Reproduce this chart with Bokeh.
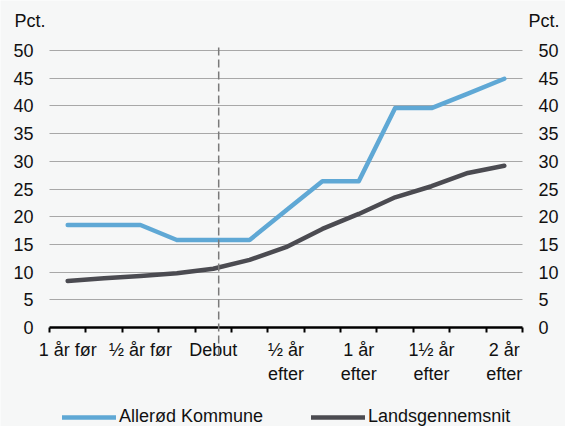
from bokeh.plotting import figure
from bokeh.models import (FixedTicker, LinearAxis, Range1d, Legend, LegendItem)
from bokeh.embed import file_html
from bokeh.resources import INLINE

# Data: quarters from 1 year before debut to 2 years after
quarters = list(range(13))
tick_labels = ["1 år før", "", "½ år før", "", "Debut", "", "½ år\nefter", "",
               "1 år\nefter", "", "1½ år\nefter", "", "2 år\nefter"]
allerod = [18.5, 18.5, 18.5, 15.8, 15.8, 15.8, 21.1, 26.4, 26.4, 39.6, 39.6, 42.2, 44.9]
lands = [8.4, 8.9, 9.3, 9.8, 10.6, 12.2, 14.5, 17.8, 20.5, 23.5, 25.5, 27.9, 29.2]
y_ticks = list(range(0, 55, 5))
unit_label = "Pct."
debut_marker = 4.15

# layout constants (pixels)
W, H = 565, 426
X_LEFT_PX, X_RIGHT_PX = 49, 522  # screen columns of the category area edges
Y0_PX, Y50_PX = 327, 50          # screen rows of y=0 and y=50
PPX = (X_RIGHT_PX - X_LEFT_PX) / 13.0
PPU = (Y0_PX - Y50_PX) / 50.0
x_lo = -0.5 - X_LEFT_PX / PPX
x_hi = 12.5 + (W - X_RIGHT_PX) / PPX
y_lo = -(H - Y0_PX) / PPU
y_hi = 50 + Y50_PX / PPU
pct_y = (Y0_PX - 20) / PPU
marker_top = 50 + 3 / PPU
marker_bottom = -(358 - Y0_PX) / PPU

BG = "#f6f7f7"
FONT = "Liberation Sans"
FS = "18px"
TXT = "#111111"

p = figure(width=W, height=H, output_backend="svg", toolbar_location=None,
           x_range=Range1d(x_lo, x_hi), y_range=Range1d(y_lo, y_hi),
           min_border_left=0, min_border_right=0, min_border_top=0,
           min_border_bottom=0)
p.background_fill_color = BG
p.border_fill_color = BG
p.outline_line_color = None

# x axis, pinned at y = 0
xa = p.xaxis[0]
xa.fixed_location = 0
xa.bounds = (-0.5, 12.5)
xa.ticker = FixedTicker(ticks=quarters, minor_ticks=[q - 0.5 for q in quarters] + [12.5])
xa.major_label_overrides = {q: lab for q, lab in zip(quarters, tick_labels)}
xa.axis_line_color = "black"
xa.axis_line_width = 2.5
xa.major_tick_line_color = None
xa.major_tick_out = 0
xa.major_tick_in = 0
xa.minor_tick_out = 5
xa.minor_tick_in = 0
xa.minor_tick_line_color = "black"
xa.minor_tick_line_width = 2
xa.major_label_standoff = 7
xa.major_label_text_font = FONT
xa.major_label_text_font_size = FS
xa.major_label_text_color = TXT


def style_y(ax, standoff):
    ax.axis_line_color = None
    ax.major_tick_line_color = None
    ax.minor_tick_line_color = None
    ax.major_tick_out = 0
    ax.major_tick_in = 0
    ax.major_label_standoff = standoff
    ax.major_label_text_font = FONT
    ax.major_label_text_font_size = FS
    ax.major_label_text_color = TXT


ya = p.yaxis[0]
ya.fixed_location = -0.5
ya.ticker = FixedTicker(ticks=y_ticks)
style_y(ya, 16)

ra = LinearAxis(ticker=FixedTicker(ticks=y_ticks), fixed_location=12.5)
style_y(ra, 16)
p.add_layout(ra, "right")

# unit captions ("Pct.") as one-tick axes pinned to the frame edges
pl = LinearAxis(ticker=FixedTicker(ticks=[pct_y]), fixed_location=-0.5,
                major_label_overrides={pct_y: unit_label})
style_y(pl, 4)
p.add_layout(pl, "left")
pr = LinearAxis(ticker=FixedTicker(ticks=[pct_y]), fixed_location=12.5,
                major_label_overrides={pct_y: unit_label})
style_y(pr, 6)
p.add_layout(pr, "right")

p.xgrid.grid_line_color = None
GRID_COLOR = "#a8a8a8"
try:
    p.ygrid.cross_bounds = (-0.5, 12.5)
    p.ygrid.ticker = FixedTicker(ticks=y_ticks[1:])
    p.ygrid.grid_line_color = GRID_COLOR
    p.ygrid.grid_line_width = 1
except AttributeError:
    p.ygrid.grid_line_color = None
    gy = y_ticks[1:]
    p.segment(x0=[-0.5] * len(gy), x1=[12.5] * len(gy), y0=gy, y1=gy,
              line_color=GRID_COLOR, line_width=1)

# debut marker (dashed vertical line crossing the axis)
p.segment(x0=[debut_marker], y0=[marker_top], x1=[debut_marker], y1=[marker_bottom],
          line_color="#7a7a7a", line_width=1.5, line_dash="8 4", level="overlay")

r1 = p.line(quarters, allerod, line_color="#5fa8d5", line_width=4.5,
            line_join="round", line_cap="round")
r2 = p.line(quarters, lands, line_color="#4b4b51", line_width=4.5,
            line_join="round", line_cap="round")

legend = Legend(items=[LegendItem(label="Allerød Kommune", renderers=[r1]),
                       LegendItem(label="Landsgennemsnit", renderers=[r2])],
                orientation="horizontal", location=(62, -1), glyph_width=54,
                glyph_height=20, label_height=20, label_standoff=3, spacing=48,
                padding=0, margin=0, background_fill_alpha=0,
                border_line_color=None, label_text_font=FONT,
                label_text_font_size=FS, label_text_color=TXT)
p.add_layout(legend)

open("out.html", "w").write(file_html(p, INLINE))
